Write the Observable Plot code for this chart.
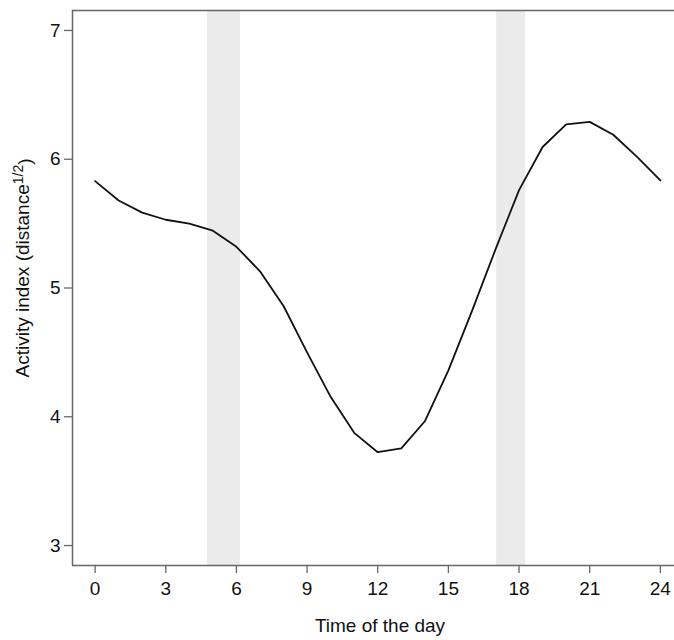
<!DOCTYPE html>
<html><head><meta charset="utf-8">
<script src="https://cdn.jsdelivr.net/npm/d3@7"></script>
<script src="https://cdn.jsdelivr.net/npm/@observablehq/plot@0.6"></script>
<style>body{margin:0;background:#fff}</style>
</head><body><div id="chart"></div>
<script>
const hours = [0,1,2,3,4,5,6,7,8,9,10,11,12,13,14,15,16,17,18,19,20,21,22,23,24];
const activity = [5.83,5.68,5.585,5.53,5.50,5.445,5.32,5.13,4.86,4.50,4.155,3.875,3.725,3.755,3.965,4.36,4.82,5.30,5.76,6.095,6.27,6.29,6.19,6.02,5.835];
const bandStart = [4.77, 17.05];
const bandEnd = [6.17, 18.28];
const xTicks = [0,3,6,9,12,15,18,21,24];
const yTicks = [3,4,5,6,7];
const xDomain = [-0.96, 24.6];
const yDomain = [2.845, 7.155];
const xLabel = "Time of the day";
const yLabel = "Activity index (distance";
const ySup = "1/2";
const yLabelEnd = ")";

const data = hours.map((h, i) => ({hour: h, value: activity[i]}));
const bands = bandStart.map((s, i) => ({start: s, end: bandEnd[i]}));
const axisColor = "#666";
const font = "'Liberation Sans', Arial, sans-serif";

const plot = Plot.plot({
  width: 674, height: 640,
  marginLeft: 72, marginRight: 0, marginTop: 10, marginBottom: 75,
  style: {fontFamily: font, fontSize: "19px", background: "#fff", color: "#111"},
  x: {domain: xDomain, label: null},
  y: {domain: yDomain, label: null},
  marks: [
    Plot.rect(bands, {x1: "start", x2: "end", fill: "#ebebeb"}),
    Plot.ruleX([xDomain[0]], {stroke: axisColor, strokeWidth: 1.5}),
    Plot.ruleY([yDomain[0]], {stroke: axisColor, strokeWidth: 1.5}),
    Plot.ruleY([yDomain[1]], {stroke: axisColor, strokeWidth: 1.5}),
    Plot.axisX({ticks: xTicks, tickFormat: d3.format("d"), tickSize: 8, tickPadding: 8, stroke: axisColor, strokeWidth: 1.3, label: null, fontSize: 19, fill: "#111"}),
    Plot.axisY({ticks: yTicks, tickFormat: d3.format("d"), tickSize: 8, tickPadding: 4, stroke: axisColor, strokeWidth: 1.3, label: null, fontSize: 19, fill: "#111"}),
    Plot.line(data, {x: "hour", y: "value", stroke: "#111", strokeWidth: 1.8})
  ]
});
document.getElementById("chart").appendChild(plot);

const svg = d3.select(plot);
svg.selectAll("g[aria-label='x-axis tick label'], g[aria-label='y-axis tick label']")
  .attr("font-size", "19px").style("font-size", "19px");
svg.append("text")
  .attr("x", 380).attr("y", 632)
  .attr("text-anchor", "middle")
  .style("font-family", font).style("font-size", "19px").attr("fill", "#111")
  .text(xLabel);
const yt = svg.append("text")
  .attr("transform", "translate(29,268) rotate(-90)")
  .attr("text-anchor", "middle")
  .style("font-family", font).style("font-size", "19px").attr("fill", "#111");
yt.append("tspan").text(yLabel);
yt.append("tspan").attr("dy", "-0.45em").style("font-size", "14px").text(ySup);
yt.append("tspan").attr("dy", "0.45em").text(yLabelEnd);
</script>
</body></html>
